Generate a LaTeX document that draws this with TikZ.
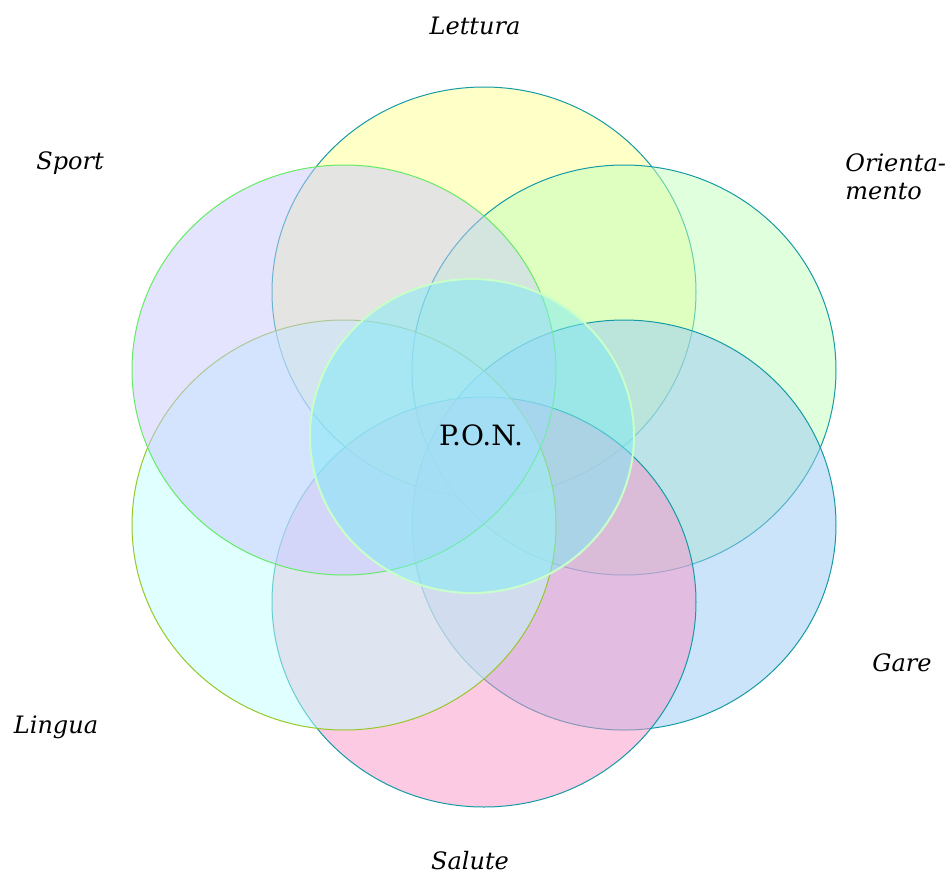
\documentclass[tikz,border=0pt]{standalone}
\usepackage{fontspec}
\setmainfont{DejaVu Serif}
\usetikzlibrary{positioning}

\definecolor{letturafill}{RGB}{255,255,145}
\definecolor{orientfill}{RGB}{193,255,187}
\definecolor{garefill}{RGB}{153,201,245}
\definecolor{salutefill}{RGB}{251,149,201}
\definecolor{linguafill}{RGB}{193,255,255}
\definecolor{sportfill}{RGB}{201,201,255}
\definecolor{ponfill}{RGB}{125,235,245}
\definecolor{tealline}{RGB}{20,155,165}
\definecolor{lingualine}{RGB}{150,200,40}
\definecolor{sportline}{RGB}{100,235,100}
\definecolor{ponline}{RGB}{200,255,200}

\tikzset{
  petal/.style={fill opacity=0.5, line width=0.5pt},
  tag/.style={font=\itshape\fontsize{12}{14}\selectfont, inner sep=0pt}
}

\begin{document}
\begin{tikzpicture}[x=0.5pt,y=-0.5pt]
  \useasboundingbox (0,0) rectangle (949,874);

  % six petals, in drawing order
  \foreach \cx/\cy/\fc/\lc in {484/292/letturafill/tealline,
                              624/370/orientfill/tealline,
                              624/525/garefill/tealline,
                              484/602/salutefill/tealline,
                              344/525/linguafill/lingualine,
                              344/370/sportfill/sportline} {
    \draw[petal, fill=\fc, draw=\lc] (\cx,\cy) ellipse [x radius=106pt, y radius=102.5pt];
  }

  % centre
  \draw[petal, fill=ponfill, draw=ponline, line width=1pt] (472,436) ellipse [x radius=81pt, y radius=78.5pt];
  \node[font=\fontsize{14}{16}\selectfont] (pon) at (481,435) {P.O.N.};

  % labels
  \node[tag] (lettura) at (475,26) {Lettura};
  \node[tag, align=left, anchor=west] (orient) at (845,177) {Orienta-\\mento};
  \node[tag] (gare) at (902,663) {Gare};
  \node[tag] (salute) at (470,861) {Salute};
  \node[tag] (lingua) at (56,727) {Lingua};
  \node[tag] (sport) at (70,163) {Sport};
\end{tikzpicture}
\end{document}
